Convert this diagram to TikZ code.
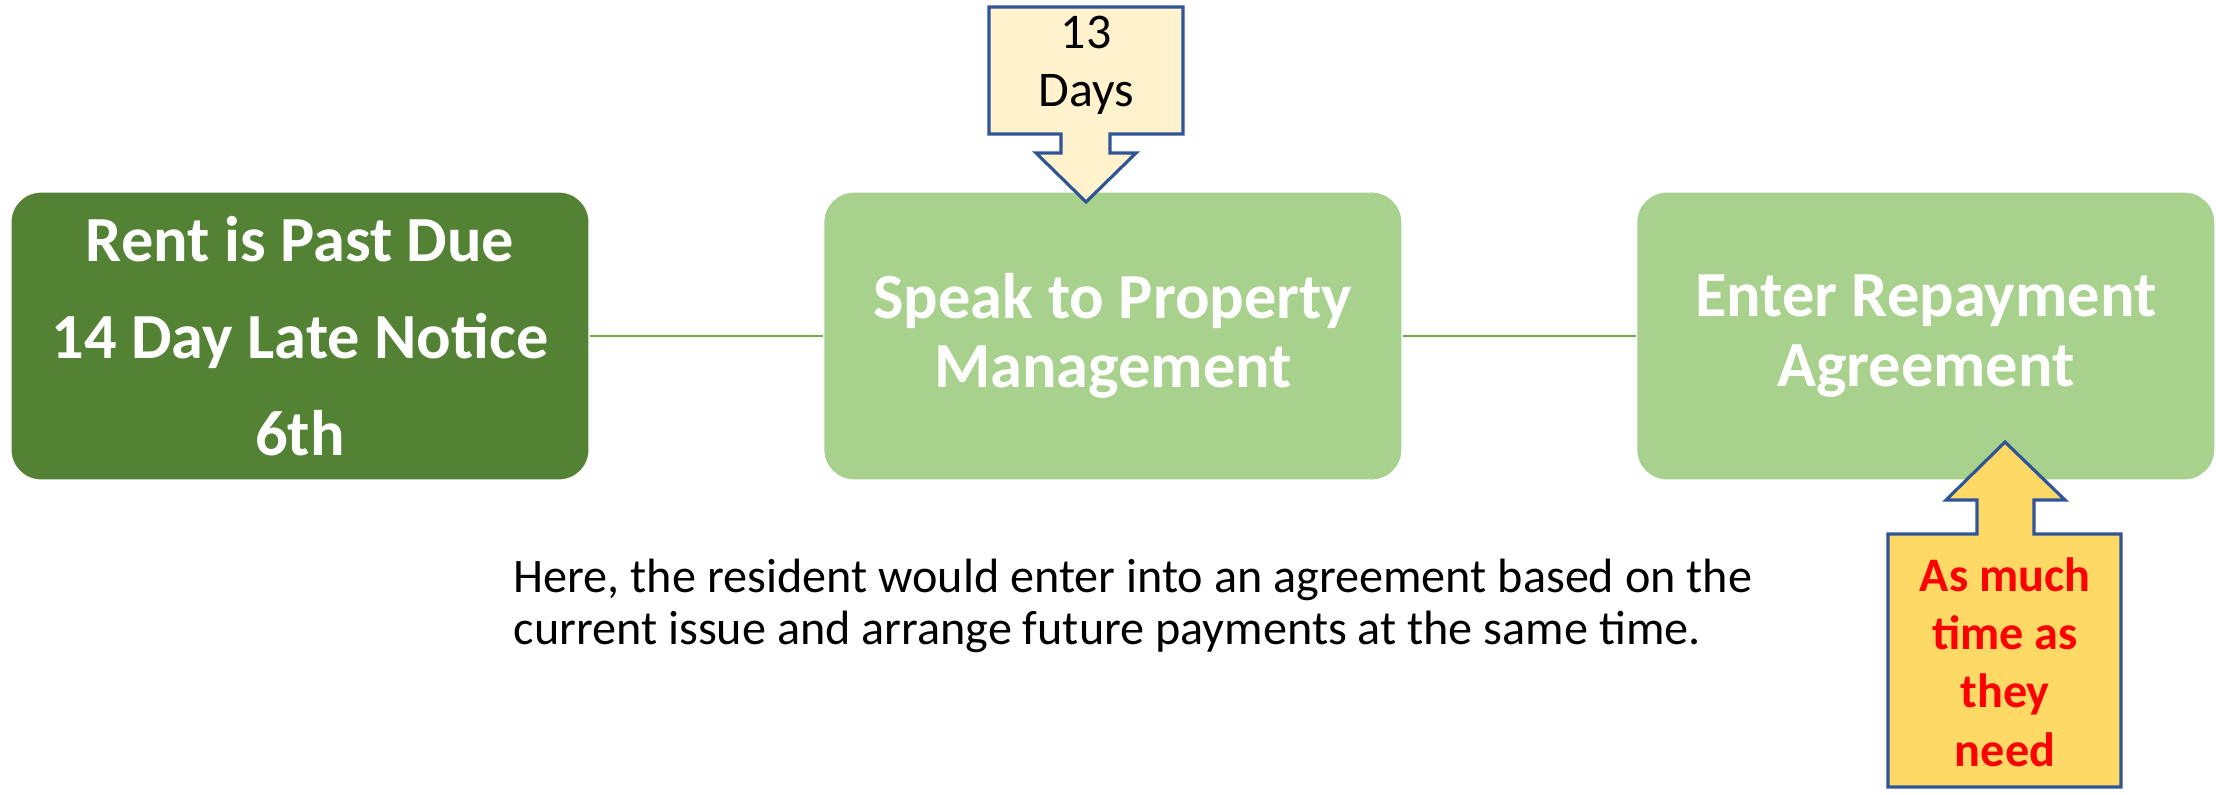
\documentclass[tikz,border=0pt]{standalone}
\usepackage{fontspec}
\setmainfont{Carlito}
\usetikzlibrary{positioning}
\definecolor{dgreen}{HTML}{548235}
\definecolor{lgreen}{HTML}{A9D18E}
\definecolor{lline}{HTML}{70AD47}
\definecolor{lcream}{HTML}{FFF2CC}
\definecolor{lgold}{HTML}{FFD966}
\definecolor{dblue}{HTML}{2F5597}
\tikzset{
  stepbox/.style={rounded corners=0.3cm, minimum width=5.78cm, minimum height=2.88cm,
    text=white, align=center, draw=white, line width=0.4pt,
    font=\bfseries\fontsize{18.3}{19.7}\selectfont},
  link/.style={lline, line width=0.6pt},
  callout/.style={draw=dblue, line width=0.9pt, line join=miter},
}

\begin{document}
\begin{tikzpicture}[x=0.01cm, y=-0.01cm]
\useasboundingbox (0,0) rectangle (2216,794);
% steps
\node[stepbox, fill=dgreen, font=\bfseries\fontsize{18.3}{27.6}\selectfont] (rent) at (300,336)
  {Rent is Past Due\\14 Day Late Notice\\6th};
\node[stepbox, fill=lgreen, right=2.33cm of rent] (speak) {Speak to Property\\Management};
\node[stepbox, fill=lgreen, right=2.33cm of speak] (repay) {Enter Repayment\\Agreement};
\draw[link] (rent) -- (speak);
\draw[link] (speak) -- (repay);

% callouts
\draw[callout, fill=lcream] (989,7) -- (1183,7) -- (1183,134) -- (1110,134) -- (1110,153)
  -- (1136,153) -- (1086,202) -- (1036,153) -- (1061,153) -- (1061,134) -- (989,134) -- cycle;
\node[align=center, font=\fontsize{14.2}{16.5}\selectfont] (days) at (1086,65) {13\\Days};
\draw[callout, fill=lgold] (1888,787) -- (1888,534) -- (1977,534) -- (1977,500) -- (1946,500)
  -- (2005,442) -- (2065,500) -- (2034,500) -- (2034,534) -- (2121,534) -- (2121,787) -- cycle;
\node[align=center, text=red, font=\bfseries\fontsize{13.7}{16.6}\selectfont] (need) at (2005,662)
  {As much\\time as\\they\\need};

% note
\node[anchor=north west, align=left, inner sep=0pt, font=\fontsize{13.7}{14.9}\selectfont] (note)
  at (513,558) {Here, the resident would enter into an agreement based on the\\current issue and arrange future payments at the same time.};
\end{tikzpicture}
\end{document}
